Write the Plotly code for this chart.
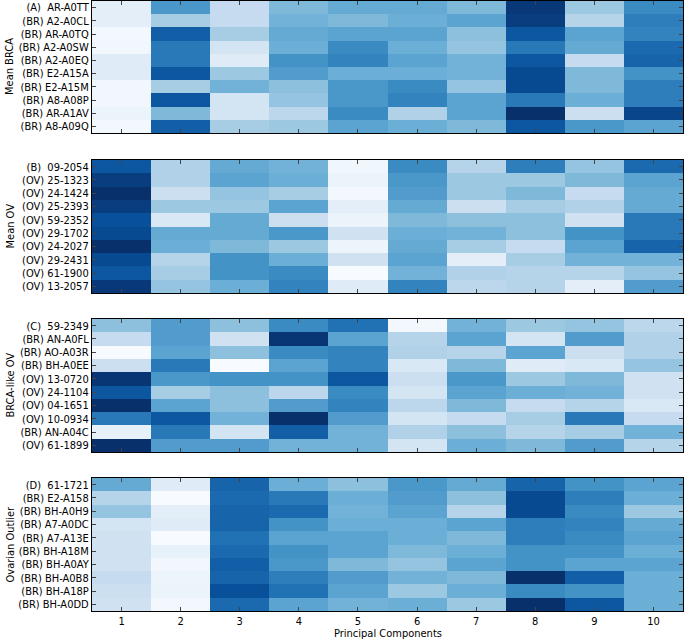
import plotly.graph_objects as go

components = list(range(1, 11))

labels_a = ["(A)\u00a0 AR-A0TT", "(BR) A2-A0CL", "(BR) AR-A0TQ", "(BR) A2-A0SW", "(BR) A2-A0EQ",
            "(BR) E2-A15A", "(BR) E2-A15M", "(BR) A8-A08P", "(BR) AR-A1AV", "(BR) A8-A09Q"]
labels_b = ["(B)\u00a0 09-2054", "(OV) 25-1323", "(OV) 24-1424", "(OV) 25-2393", "(OV) 59-2352",
            "(OV) 29-1702", "(OV) 24-2027", "(OV) 29-2431", "(OV) 61-1900", "(OV) 13-2057"]
labels_c = ["(C)\u00a0 59-2349", "(BR) AN-A0FL", "(BR) AO-A03R", "(BR) BH-A0EE", "(OV) 13-0720",
            "(OV) 24-1104", "(OV) 04-1651", "(OV) 10-0934", "(BR) AN-A04C", "(OV) 61-1899"]
labels_d = ["(D)\u00a0 61-1721", "(BR) E2-A158", "(BR) BH-A0H9", "(BR) A7-A0DC", "(BR) A7-A13E",
            "(BR) BH-A18M", "(BR) BH-A0AY", "(BR) BH-A0B8", "(BR) BH-A18P", "(BR) BH-A0DD"]

values_a = [
    [0.10, 0.60, 0.25, 0.45, 0.52, 0.52, 0.45, 0.97, 0.38, 0.65],
    [0.10, 0.35, 0.25, 0.48, 0.45, 0.50, 0.55, 0.95, 0.30, 0.70],
    [0.02, 0.82, 0.35, 0.52, 0.55, 0.55, 0.42, 0.85, 0.55, 0.68],
    [0.03, 0.72, 0.18, 0.50, 0.65, 0.50, 0.40, 0.72, 0.52, 0.78],
    [0.12, 0.72, 0.12, 0.62, 0.68, 0.55, 0.48, 0.85, 0.25, 0.80],
    [0.12, 0.85, 0.38, 0.58, 0.50, 0.50, 0.48, 0.90, 0.45, 0.62],
    [0.03, 0.35, 0.48, 0.42, 0.60, 0.65, 0.40, 0.90, 0.45, 0.70],
    [0.03, 0.85, 0.18, 0.40, 0.60, 0.68, 0.55, 0.72, 0.50, 0.70],
    [0.06, 0.45, 0.18, 0.28, 0.65, 0.32, 0.55, 1.00, 0.22, 0.92],
    [0.02, 0.82, 0.35, 0.38, 0.55, 0.50, 0.45, 0.85, 0.60, 0.55],
]
values_b = [
    [0.85, 0.32, 0.52, 0.48, 0.04, 0.65, 0.30, 0.70, 0.40, 0.78],
    [0.95, 0.32, 0.55, 0.50, 0.06, 0.60, 0.38, 0.38, 0.45, 0.55],
    [1.00, 0.22, 0.40, 0.35, 0.02, 0.58, 0.38, 0.45, 0.25, 0.52],
    [0.95, 0.38, 0.38, 0.55, 0.10, 0.52, 0.22, 0.35, 0.32, 0.52],
    [0.88, 0.15, 0.52, 0.22, 0.06, 0.45, 0.42, 0.42, 0.20, 0.72],
    [0.90, 0.52, 0.52, 0.60, 0.20, 0.50, 0.48, 0.42, 0.62, 0.72],
    [1.00, 0.50, 0.45, 0.38, 0.05, 0.52, 0.35, 0.25, 0.55, 0.80],
    [0.90, 0.30, 0.62, 0.50, 0.20, 0.55, 0.10, 0.35, 0.48, 0.48],
    [0.85, 0.35, 0.62, 0.65, 0.00, 0.48, 0.32, 0.30, 0.30, 0.40],
    [0.97, 0.40, 0.50, 0.68, 0.12, 0.68, 0.28, 0.30, 0.10, 0.58],
]
values_c = [
    [0.42, 0.58, 0.42, 0.65, 0.75, 0.02, 0.48, 0.38, 0.40, 0.28],
    [0.25, 0.58, 0.20, 0.98, 0.55, 0.30, 0.55, 0.18, 0.58, 0.32],
    [0.00, 0.55, 0.42, 0.65, 0.68, 0.32, 0.30, 0.55, 0.22, 0.32],
    [0.22, 0.72, 0.00, 0.55, 0.68, 0.15, 0.45, 0.12, 0.15, 0.40],
    [0.98, 0.60, 0.62, 0.62, 0.85, 0.22, 0.60, 0.38, 0.45, 0.20],
    [0.85, 0.35, 0.42, 0.28, 0.65, 0.18, 0.55, 0.50, 0.48, 0.20],
    [1.00, 0.55, 0.42, 0.58, 0.68, 0.28, 0.45, 0.25, 0.30, 0.15],
    [0.72, 0.85, 0.48, 1.00, 0.58, 0.18, 0.25, 0.35, 0.72, 0.25],
    [0.08, 0.72, 0.18, 0.82, 0.48, 0.32, 0.42, 0.30, 0.35, 0.48],
    [1.00, 0.58, 0.58, 0.48, 0.48, 0.18, 0.50, 0.45, 0.58, 0.30],
]
values_d = [
    [0.52, 0.12, 0.80, 0.50, 0.42, 0.60, 0.52, 0.80, 0.62, 0.55],
    [0.30, 0.00, 0.78, 0.72, 0.50, 0.58, 0.42, 0.90, 0.70, 0.50],
    [0.40, 0.10, 0.80, 0.78, 0.48, 0.55, 0.30, 0.90, 0.65, 0.38],
    [0.18, 0.12, 0.80, 0.62, 0.50, 0.50, 0.55, 0.70, 0.68, 0.52],
    [0.20, 0.00, 0.75, 0.55, 0.55, 0.50, 0.45, 0.70, 0.65, 0.55],
    [0.20, 0.08, 0.78, 0.62, 0.55, 0.45, 0.50, 0.62, 0.62, 0.50],
    [0.20, 0.03, 0.82, 0.60, 0.45, 0.40, 0.55, 0.62, 0.55, 0.55],
    [0.25, 0.05, 0.80, 0.70, 0.58, 0.48, 0.45, 1.00, 0.82, 0.50],
    [0.22, 0.06, 0.88, 0.75, 0.55, 0.38, 0.50, 0.65, 0.62, 0.50],
    [0.20, 0.02, 0.78, 0.55, 0.48, 0.50, 0.38, 1.00, 0.85, 0.50],
]

panel_titles = ["Mean BRCA", "Mean OV", "BRCA-like OV", "Ovarian Outlier"]
x_title = "Principal Components"

blues = [[0.0, "#f7fbff"], [0.125, "#deebf7"], [0.25, "#c6dbef"], [0.375, "#9ecae1"],
         [0.5, "#6baed6"], [0.625, "#4292c6"], [0.75, "#2171b5"], [0.875, "#08519c"],
         [1.0, "#08306b"]]

W, H = 685, 639
ml, mr, mt, mb = 92, 2, 1, 28
ph = H - mt - mb
pw = W - ml - mr
panel_px = [(1, 133), (160, 293), (319, 452), (478, 611)]
domains = [[(H - mb - b) / ph, (H - mb - t) / ph] for t, b in panel_px]

fig = go.Figure()
font = dict(family="DejaVu Sans Condensed, DejaVu Sans", size=11, color="black")
panels = [(labels_a, values_a), (labels_b, values_b), (labels_c, values_c), (labels_d, values_d)]
layout = {}
for i, (labs, vals) in enumerate(panels):
    n = "" if i == 0 else str(i + 1)
    fig.add_trace(go.Heatmap(z=vals, x=components, y=labs, coloraxis="coloraxis",
                             xaxis="x" + n, yaxis="y" + n))
    layout["xaxis" + n] = dict(domain=[0, 1], anchor="y" + n, range=[0.5, 10.5],
                               tickvals=components, showticklabels=(i == 3),
                               ticks="inside", ticklen=4, mirror="ticks",
                               showline=True, linecolor="black", linewidth=1.2,
                               showgrid=False, zeroline=False, tickfont=font,
                               automargin=False, fixedrange=True, ticklabelstandoff=0)
    layout["yaxis" + n] = dict(domain=domains[i], anchor="x" + n, autorange="reversed",
                               ticks="inside", ticklen=4, mirror="ticks",
                               showline=True, linecolor="black", linewidth=1.2,
                               showgrid=False, zeroline=False, tickfont=font,
                               automargin=False, ticklabelstandoff=0)
    fig.add_annotation(text=panel_titles[i], textangle=-90, xref="paper", yref="paper",
                       x=(10 - ml) / pw, y=sum(domains[i]) / 2,
                       xanchor="center", yanchor="middle", showarrow=False, font=font)

fig.add_annotation(text=x_title, xref="paper", yref="paper", x=0.5,
                   y=-(633 - (H - mb)) / ph, xanchor="center", yanchor="middle",
                   showarrow=False, font=font)
fig.update_layout(**layout)
fig.update_layout(width=W, height=H, margin=dict(l=ml, r=mr, t=mt, b=mb, autoexpand=False),
                  paper_bgcolor="white", plot_bgcolor="white", showlegend=False,
                  coloraxis=dict(colorscale=blues, cmin=0, cmax=1, showscale=False),
                  font=font)
fig.write_html("out.html", config={"displayModeBar": False},
               post_script="document.body.style.margin='0px';")
